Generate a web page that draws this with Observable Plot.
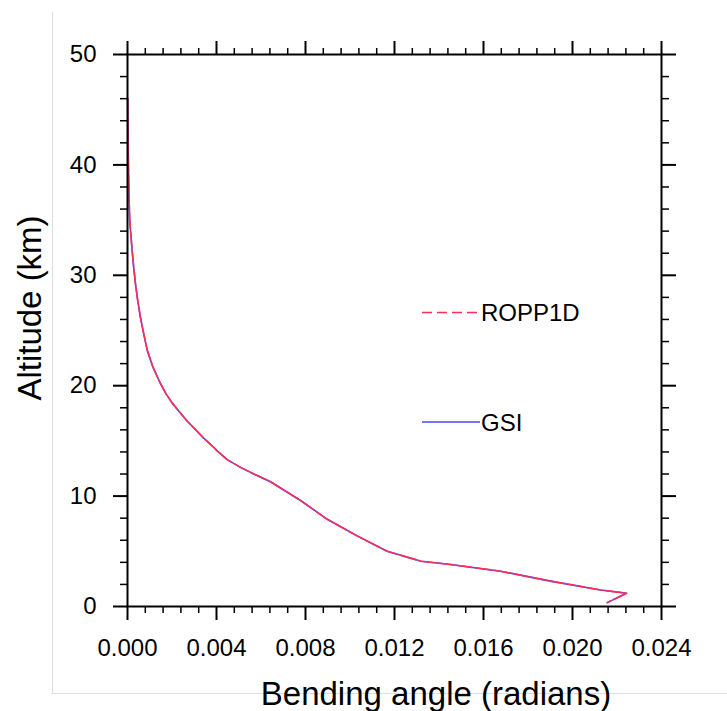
<!DOCTYPE html>
<html>
<head>
<meta charset="utf-8">
<script src="https://cdn.jsdelivr.net/npm/d3@7"></script>
<script src="https://cdn.jsdelivr.net/npm/@observablehq/plot@0.6"></script>
<style>
  html, body { margin: 0; padding: 0; background: white; }
  #chart { width: 727px; height: 711px; overflow: hidden; }
</style>
</head>
<body>
<div id="chart"></div>
<script>
// Altitude (km) of each profile level
const altitude = [46.0, 44.0, 42.0, 40.0, 37.0, 35.0, 32.2, 30.7, 29.2, 27.7, 26.2, 24.7, 23.2, 21.7, 20.2, 19.3, 18.4, 17.6, 16.8, 16.1, 15.3, 14.4, 14.1, 13.3, 12.6, 12.0, 11.3, 9.6, 7.9, 6.4, 5.0, 4.1, 3.8, 3.2, 2.3, 1.5, 1.2, 0.35];
// Bending angle (radians), GSI
const gsiAngle = [0.00001, 0.000015, 0.00003, 0.00004, 0.00007, 0.00010, 0.00021, 0.00028, 0.00036, 0.00046, 0.00058, 0.00073, 0.00089, 0.00114, 0.00148, 0.00172, 0.00202, 0.00235, 0.00268, 0.00302, 0.00340, 0.00388, 0.00403, 0.00448, 0.00508, 0.00568, 0.00643, 0.00778, 0.00898, 0.01032, 0.01167, 0.01320, 0.01452, 0.01676, 0.01901, 0.02126, 0.02243, 0.02156];
// Bending angle (radians), ROPP1D
const roppAngle = [0.00001, 0.000015, 0.00003, 0.00004, 0.00007, 0.00010, 0.00021, 0.00028, 0.00036, 0.00046, 0.00058, 0.00073, 0.00089, 0.00114, 0.00148, 0.00172, 0.00202, 0.00235, 0.00268, 0.00302, 0.00340, 0.00388, 0.00403, 0.00448, 0.00508, 0.00568, 0.00643, 0.00778, 0.00898, 0.01032, 0.01167, 0.01320, 0.01452, 0.01676, 0.01901, 0.02126, 0.02243, 0.02156];

const xMajorTicks = [0, 0.004, 0.008, 0.012, 0.016, 0.020, 0.024];
const xMinorTicks = [0.0008, 0.0016, 0.0024, 0.0032, 0.0048, 0.0056, 0.0064, 0.0072, 0.0088, 0.0096, 0.0104, 0.0112, 0.0128, 0.0136, 0.0144, 0.0152, 0.0168, 0.0176, 0.0184, 0.0192, 0.0208, 0.0216, 0.0224, 0.0232];
const yMajorTicks = [0, 10, 20, 30, 40, 50];
const yMinorTicks = [2, 4, 6, 8, 12, 14, 16, 18, 22, 24, 26, 28, 32, 34, 36, 38, 42, 44, 46, 48];

const seriesNames = ["ROPP1D", "GSI"];
const xTitle = "Bending angle (radians)";
const yTitle = "Altitude (km)";

const gsiData = altitude.map((a, i) => ({alt: a, angle: gsiAngle[i]}));
const roppData = altitude.map((a, i) => ({alt: a, angle: roppAngle[i]}));

const RED = "#ff2d55";
const BLUE = "#4646ff";
const FONT = "'Liberation Sans', Arial, Helvetica, sans-serif";

const plot = Plot.plot({
  width: 727,
  height: 711,
  marginLeft: 127,
  marginRight: 66,
  marginTop: 54,
  marginBottom: 105,
  style: {fontFamily: FONT, fontSize: "24px", color: "black", background: "white", overflow: "visible"},
  x: {domain: [0, 0.024], label: null},
  y: {domain: [0, 50], label: null},
  marks: [
    Plot.line(gsiData, {x: "angle", y: "alt", stroke: BLUE, strokeWidth: 1.6}),
    Plot.line(roppData, {x: "angle", y: "alt", stroke: RED, strokeWidth: 1.6, strokeDasharray: "16,3"}),
    Plot.axisX(xMinorTicks, {anchor: "bottom", tickSize: 7, strokeWidth: 1.5, fill: "none", label: null}),
    Plot.axisX(xMinorTicks, {anchor: "top", tickSize: 7, strokeWidth: 1.5, fill: "none", label: null}),
    Plot.axisY(yMinorTicks, {anchor: "left", tickSize: 7, strokeWidth: 1.5, fill: "none", label: null}),
    Plot.axisY(yMinorTicks, {anchor: "right", tickSize: 7, strokeWidth: 1.5, fill: "none", label: null}),
    Plot.axisX(xMajorTicks, {anchor: "bottom", tickSize: 14, tickPadding: 18, strokeWidth: 2, tickFormat: d => d.toFixed(3), label: null, fontSize: 24}),
    Plot.axisX(xMajorTicks, {anchor: "top", tickSize: 14, strokeWidth: 2, fill: "none", label: null}),
    Plot.axisY(yMajorTicks, {anchor: "left", tickSize: 14, tickPadding: 17, strokeWidth: 2, tickFormat: d => String(d), label: null, fontSize: 24}),
    Plot.axisY(yMajorTicks, {anchor: "right", tickSize: 14, strokeWidth: 2, fill: "none", label: null}),
    Plot.frame({stroke: "black", strokeWidth: 2})
  ]
});

document.getElementById("chart").appendChild(plot);

// Decorations: faint frame, axis titles, legend
const svg = d3.select(plot);
const deco = svg.append("g").attr("font-family", FONT).attr("fill", "black");

deco.append("line").attr("x1", 52.5).attr("x2", 52.5).attr("y1", 12).attr("y2", 694)
  .attr("stroke", "#dddddd").attr("stroke-width", 1);
deco.append("line").attr("x1", 52.5).attr("x2", 727).attr("y1", 693.5).attr("y2", 693.5)
  .attr("stroke", "#dddddd").attr("stroke-width", 1);

deco.append("text").attr("x", 436).attr("y", 705).attr("text-anchor", "middle")
  .attr("font-size", 33).text(xTitle);
deco.append("text").attr("transform", "translate(41,308) rotate(-90)").attr("text-anchor", "middle")
  .attr("font-size", 33).text(yTitle);

const legend = [
  {name: seriesNames[0], color: RED, dash: "10,5", y: 312.5, ty: 321},
  {name: seriesNames[1], color: BLUE, dash: null, y: 422, ty: 431}
];
for (const l of legend) {
  deco.append("line").attr("x1", 422).attr("x2", 480).attr("y1", l.y).attr("y2", l.y)
    .attr("stroke", l.color).attr("stroke-width", 1.6).attr("stroke-dasharray", l.dash);
  deco.append("text").attr("x", 481).attr("y", l.ty).attr("text-anchor", "start")
    .attr("font-size", 24).text(l.name);
}
</script>
</body>
</html>
